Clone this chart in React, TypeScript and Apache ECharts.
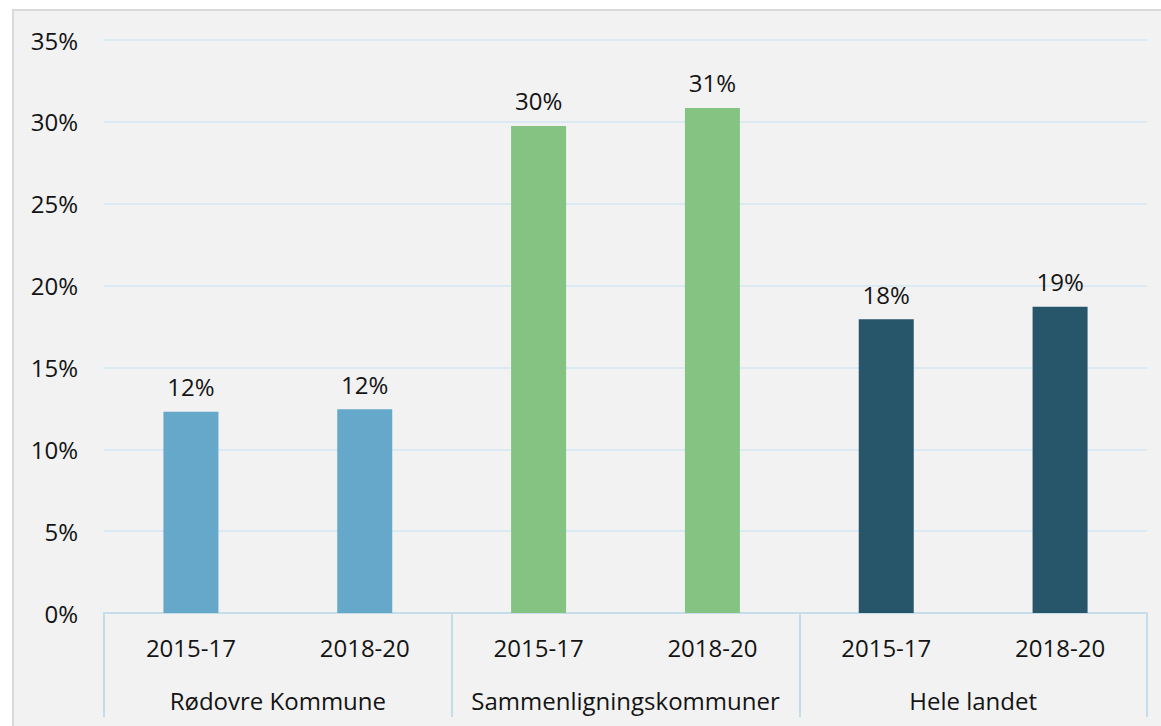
import React, { useEffect, useRef } from "react";
import * as echarts from "echarts";

const periods = ["2015-17", "2018-20", "2015-17", "2018-20", "2015-17", "2018-20"];
const groups = ["Rødovre Kommune", "Sammenligningskommuner", "Hele landet"];
const values = [12.3, 12.45, 29.75, 30.85, 17.95, 18.7];
const barColors = ["#66a8c9", "#66a8c9", "#85c383", "#85c383", "#27566b", "#27566b"];
const yTicks = [0, 5, 10, 15, 20, 25, 30, 35];

export default function App() {
  const ref = useRef<HTMLDivElement>(null);
  useEffect(() => {
    const chart = echarts.init(ref.current!, null, { renderer: "svg" });
    const font = "'Open Sans', 'Noto Sans', sans-serif";
    const fs = 24;
    const tc = "#141414";
    chart.setOption({
      animation: false,
      backgroundColor: "#ffffff",
      graphic: [
        {
          type: "rect",
          silent: true,
          z: -10,
          shape: { x: 13, y: 10, width: 1170, height: 730 },
          style: { fill: "#f2f2f2", stroke: "#d9d9d9", lineWidth: 2 },
        },
      ],
      grid: { left: 104, right: 14, top: 40, bottom: 113, containLabel: false },
      xAxis: [
        {
          type: "category",
          data: periods,
          position: "bottom",
          axisLine: { show: true, lineStyle: { color: "#c5dde9", width: 2 } },
          axisTick: { show: false },
          axisLabel: { margin: 22, fontSize: fs, color: tc, fontFamily: font, interval: 0 },
        },
        {
          type: "category",
          data: groups,
          position: "bottom",
          axisLine: { show: false },
          axisTick: { show: true, interval: 0, length: 104, lineStyle: { color: "#c5dde9", width: 2 } },
          axisLabel: { margin: 75, fontSize: fs, color: tc, fontFamily: font, interval: 0 },
        },
      ],
      yAxis: {
        type: "value",
        min: yTicks[0],
        max: yTicks[yTicks.length - 1],
        interval: 5,
        axisLine: { show: false },
        axisTick: { show: false },
        axisLabel: { formatter: "{value}%", margin: 26, fontSize: fs, color: tc, fontFamily: font },
        splitLine: { lineStyle: { color: "#dbe9f3", width: 2 } },
      },
      series: [
        {
          type: "bar",
          xAxisIndex: 0,
          barWidth: 55,
          data: values.map((v, i) => ({ value: v, itemStyle: { color: barColors[i] } })),
          label: {
            show: true,
            position: "top",
            distance: 13,
            fontSize: fs,
            color: tc,
            fontFamily: font,
            formatter: (p: any) => Math.round(p.value) + "%",
          },
        },
      ],
    });
    return () => chart.dispose();
  }, []);
  return (
    <div
      ref={ref}
      style={{ position: "absolute", left: 0, top: 0, width: 1161, height: 726 }}
    />
  );
}
